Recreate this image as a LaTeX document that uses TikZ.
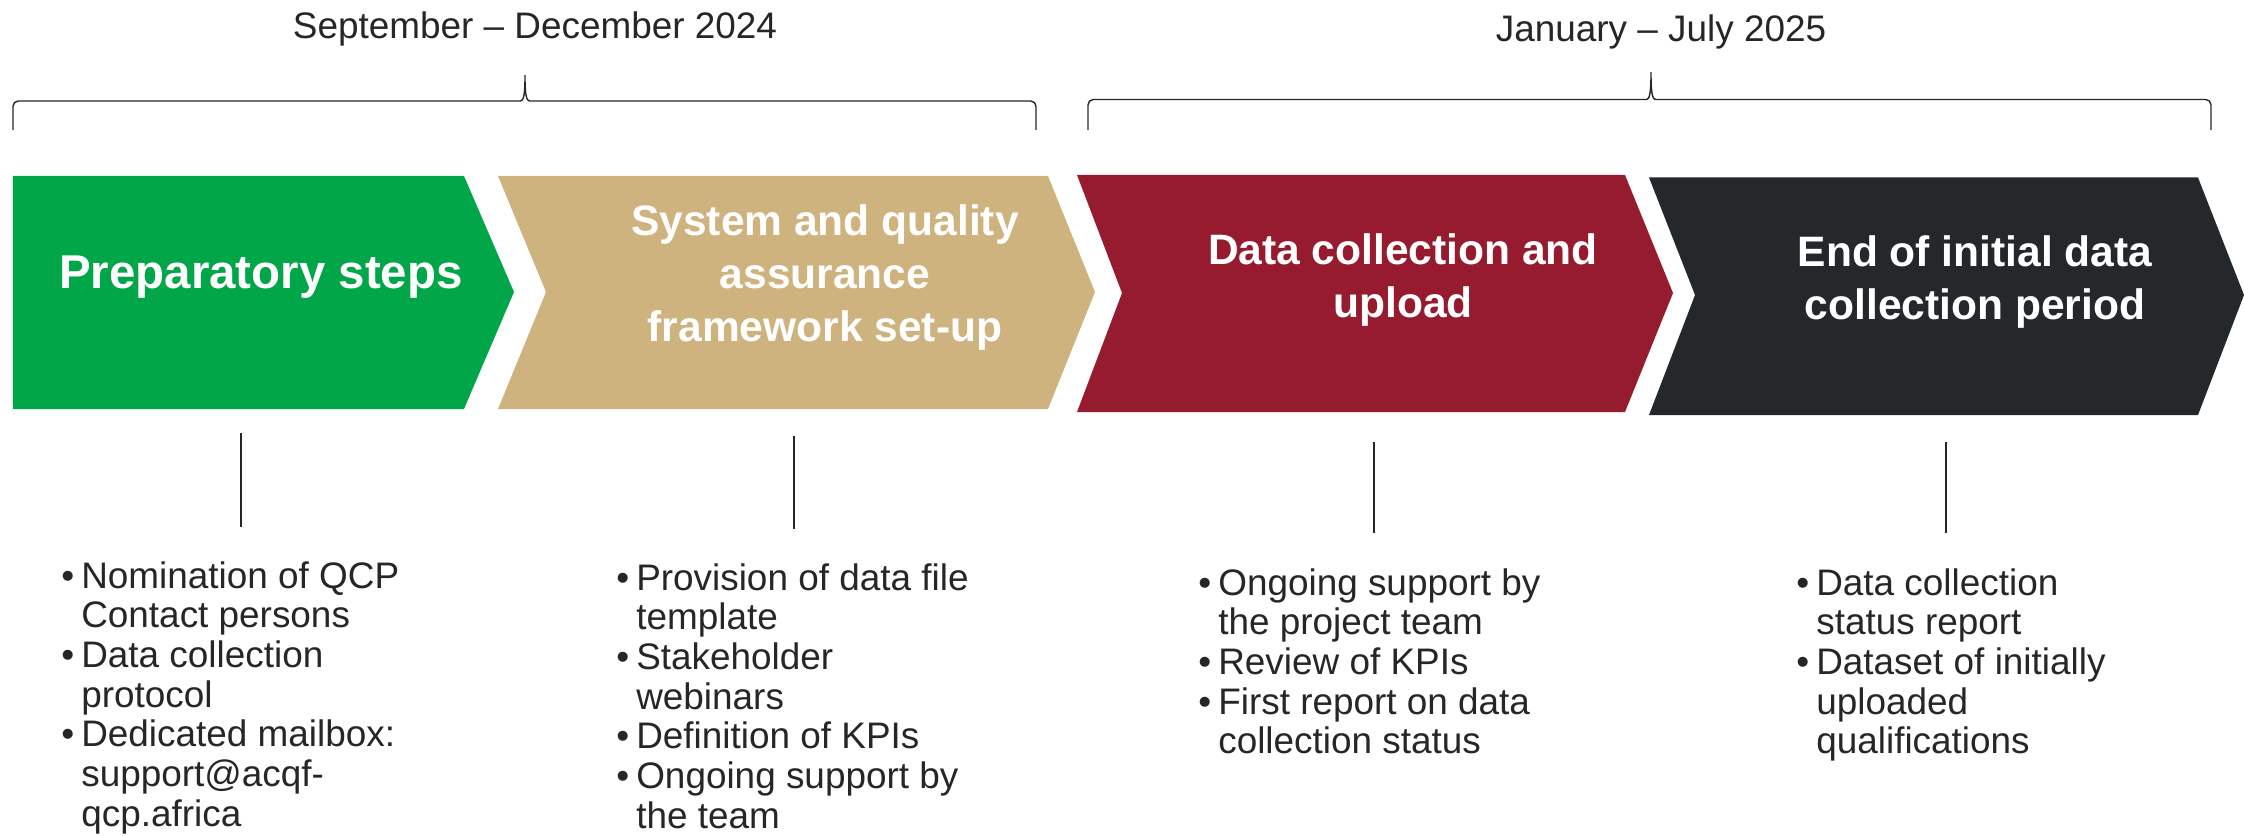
\documentclass[tikz,border=0pt]{standalone}
\usepackage{fontspec}
\setmainfont{Liberation Sans}
\usepackage{tikz}
\usetikzlibrary{positioning,calc}

\definecolor{prepgreen}{RGB}{0,166,71}
\definecolor{setuptan}{RGB}{207,179,126}
\definecolor{uploadred}{RGB}{151,27,47}
\definecolor{enddark}{RGB}{37,40,42}
\definecolor{textdark}{RGB}{38,38,38}

\begin{document}
\begin{tikzpicture}[
  phase/.style={text=white, font=\fontsize{24.2}{29.9}\selectfont\bfseries, align=center, anchor=base, inner sep=0pt},
  bigphase/.style={phase, font=\fontsize{27}{29.9}\selectfont\bfseries},
  period/.style={text=textdark, font=\fontsize{21}{23}\selectfont, anchor=base, inner sep=0pt},
  tasks/.style={text=textdark, font=\fontsize{21}{22.6}\selectfont, anchor=base west, inner sep=0pt},
  brace/.style={draw=textdark, line width=0.8pt, rounded corners=3pt},
  tick/.style={draw=textdark, line width=0.9pt}
]
\useasboundingbox (0,0) rectangle (44.88,16.7);

% phases
\fill[prepgreen] (0.26,13.18) -- (9.28,13.18) -- (10.28,10.86) -- (9.28,8.52) -- (0.26,8.52) -- cycle;
\fill[setuptan] (9.96,13.18) -- (20.96,13.18) -- (21.9,10.86) -- (20.96,8.52) -- (9.96,8.52) -- (10.92,10.86) -- cycle;
\fill[uploadred] (21.54,13.2) -- (32.5,13.2) -- (33.46,10.84) -- (32.5,8.46) -- (21.54,8.46) -- (22.44,10.84) -- cycle;
\fill[enddark] (32.98,13.15) -- (43.96,13.15) -- (44.88,10.8) -- (43.96,8.4) -- (32.98,8.4) -- (33.9,10.8) -- cycle;

% base anchor sits on the last line
\node[bigphase] at (5.22,10.94) (prep) {Preparatory steps};
\node[phase] at (16.5,9.88) (setup) {System and quality\\assurance\\framework set-up};
\node[phase] at (28.06,10.36) (upload) {Data collection and\\upload};
\node[phase] at (39.5,10.32) (closing) {End of initial data\\collection period};

% periods
\draw[brace] (0.26,14.1) -- (0.26,14.68) -- (10.3,14.68) .. controls (10.46,14.68) and (10.5,14.76) .. (10.5,15.26) .. controls (10.5,14.76) and (10.54,14.68) .. (10.7,14.68) -- (20.72,14.68) -- (20.72,14.1);
\draw[brace] (21.76,14.1) -- (21.76,14.71) -- (32.82,14.71) .. controls (32.98,14.71) and (33.02,14.79) .. (33.02,15.32) .. controls (33.02,14.79) and (33.06,14.71) .. (33.22,14.71) -- (44.22,14.71) -- (44.22,14.1);

\node[period] at (10.7,15.92) (sepdec) {September -- December 2024};
\node[period] at (33.22,15.86) (janjul) {January -- July 2025};

% tasks
\node[tasks] at (1.22,4.94) (preplist) {\begin{tabular}[t]{@{}l@{\hspace{4pt}}l@{}}
\textbullet & Nomination of QCP\\ & Contact persons\\
\textbullet & Data collection\\ & protocol\\
\textbullet & Dedicated mailbox:\\ & support@acqf-\\ & qcp.africa
\end{tabular}};
\node[tasks] at (12.32,4.9) (setuplist) {\begin{tabular}[t]{@{}l@{\hspace{4pt}}l@{}}
\textbullet & Provision of data file\\ & template\\
\textbullet & Stakeholder\\ & webinars\\
\textbullet & Definition of KPIs\\
\textbullet & Ongoing support by\\ & the team
\end{tabular}};
\node[tasks] at (23.96,4.8) (uploadlist) {\begin{tabular}[t]{@{}l@{\hspace{4pt}}l@{}}
\textbullet & Ongoing support by\\ & the project team\\
\textbullet & Review of KPIs\\
\textbullet & First report on data\\ & collection status
\end{tabular}};
\node[tasks] at (35.92,4.8) (closinglist) {\begin{tabular}[t]{@{}l@{\hspace{4pt}}l@{}}
\textbullet & Data collection\\ & status report\\
\textbullet & Dataset of initially\\ & uploaded\\ & qualifications
\end{tabular}};

\coordinate (prep a) at (4.82,8.04);   \coordinate (prep b) at (4.82,6.16);
\coordinate (setup a) at (15.88,7.98); \coordinate (setup b) at (15.88,6.12);
\coordinate (upload a) at (27.48,7.86); \coordinate (upload b) at (27.48,6.04);
\coordinate (closing a) at (38.92,7.86); \coordinate (closing b) at (38.92,6.04);
\foreach \p in {prep,setup,upload,closing}
  \draw[tick] (\p\space a) -- (\p\space b);

\end{tikzpicture}
\end{document}
